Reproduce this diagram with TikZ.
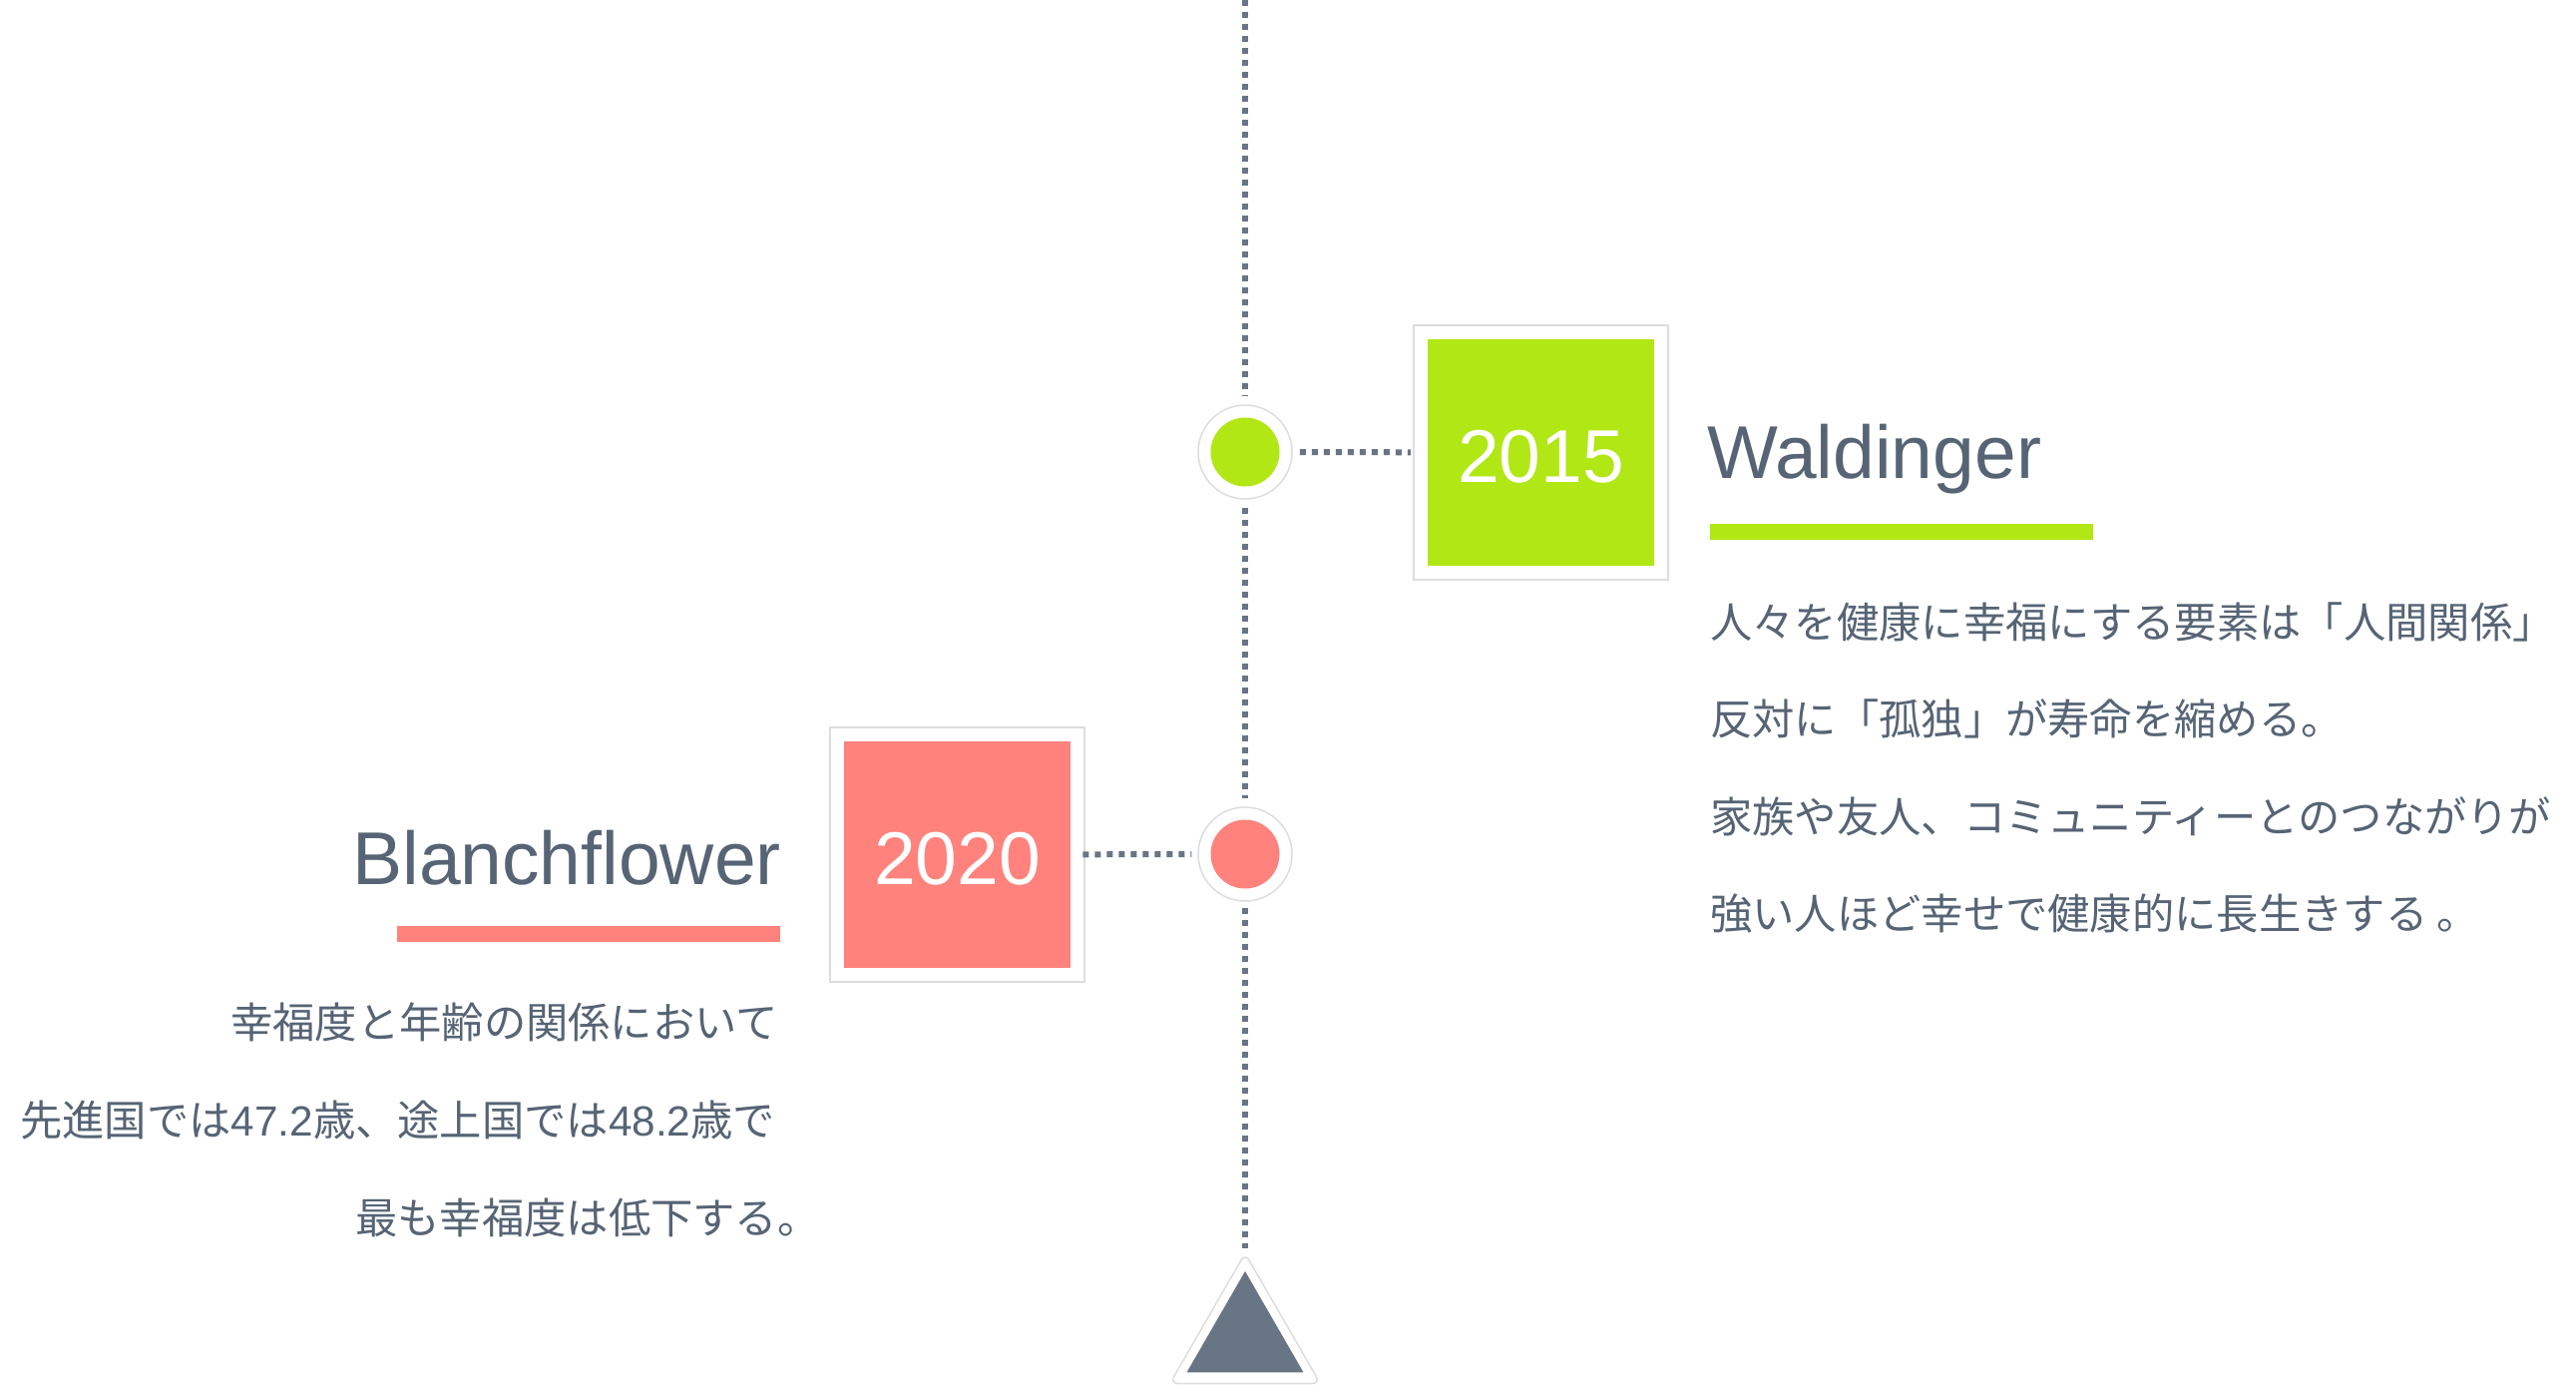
\documentclass[tikz,border=0pt]{standalone}
\usepackage{fontspec}
\setmainfont{Liberation Sans}
\newfontfamily\jpfont{Noto Sans CJK JP}
\newfontfamily\latinfont{Liberation Sans}
\usetikzlibrary{shapes.geometric}
\definecolor{tlgreen}{RGB}{177,231,20}
\definecolor{tlred}{RGB}{255,130,125}
\definecolor{tlslate}{RGB}{104,117,133}
\definecolor{tltext}{RGB}{86,100,117}
\definecolor{tlring}{RGB}{221,221,221}
\tikzset{
  dotline/.style={draw=tlslate, line width=6pt, dash pattern=on 6pt off 6pt},
  ringnode/.style={circle, minimum size=94pt, inner sep=0pt, fill=white, draw=tlring, line width=1.5pt},
  dotnode/.style={circle, minimum size=69pt, inner sep=0pt},
  framebox/.style={rectangle, minimum size=255pt, inner sep=0pt, fill=white, draw=tlring, line width=2.5pt},
  yearbox/.style={rectangle, minimum size=227pt, inner sep=0pt, text=white,
    font=\fontsize{75}{80}\selectfont, text height=60pt, text depth=0pt},
  namelabel/.style={inner sep=0pt, text=tltext, font=\fontsize{75}{80}\selectfont},
  bodytext/.style={inner sep=0pt, text=tltext, font=\jpfont\fontsize{42.3}{50}\selectfont},
  underbar/.style={rectangle, inner sep=0pt, minimum width=384pt, minimum height=16pt, anchor=north west}
}
\begin{document}
\begin{tikzpicture}[x=1pt,y=-1pt]
\useasboundingbox (0,0) rectangle (2582,1388);
\fill[white] (0,0) rectangle (2582,1388);

% timeline nodes
\coordinate (top) at (1248,0);
\node[ringnode] (c1) at (1248,453) {};
\node[dotnode, fill=tlgreen] (c1in) at (c1) {};
\node[ringnode] (c2) at (1248,856) {};
\node[dotnode, fill=tlred] (c2in) at (c2) {};

% end triangle
\node[regular polygon, regular polygon sides=3, minimum size=174pt, inner sep=0pt,
      fill=white, draw=tlring, line width=1.5pt, rounded corners=8pt] (tri) at (1248,1343) {};
\node[regular polygon, regular polygon sides=3, minimum size=135pt, inner sep=0pt,
      fill=tlslate] (triin) at (1248,1341.5) {};

% vertical dotted line
\draw[dotline, shorten >=8pt] (top) -- (c1);
\draw[dotline, shorten <=8pt, shorten >=8pt] (c1) -- (c2);
\draw[dotline, shorten <=6pt, shorten >=4pt] (c2) -- (tri.north);

% 2015 entry
\node[framebox] (sq1) at (1544.5,453.5) {};
\node[yearbox, fill=tlgreen] (y1) at (sq1) {2015};
\draw[dotline, shorten <=7pt, shorten >=2pt] (c1) -- (sq1);
\node[namelabel, anchor=base west] (n1) at (1711,479) {Waldinger};
\node[underbar, fill=tlgreen] (u1) at (1714,525) {};
\node[bodytext, anchor=base west] (t11) at (1714,639) {人々を健康に幸福にする要素は「人間関係」};
\node[bodytext, anchor=base west] (t12) at (1714,736) {反対に「孤独」が寿命を縮める。};
\node[bodytext, anchor=base west] (t13) at (1714,834) {家族や友人、コミュニティーとのつながりが};
\node[bodytext, anchor=base west] (t14) at (1714,931) {強い人ほど幸せで健康的に長生きする 。};

% 2020 entry
\node[framebox] (sq2) at (959.5,856.5) {};
\node[yearbox, fill=tlred] (y2) at (sq2) {2020};
\draw[dotline, shorten <=-3pt, shorten >=6pt] (sq2) -- (c2);
\node[namelabel, anchor=base east] (n2) at (783,886) {Blanchflower};
\node[underbar, fill=tlred] (u2) at (398,928) {};
\node[bodytext, anchor=base west] (t21) at (231,1040) {幸福度と年齢の関係において};
\node[bodytext, anchor=base west] (t22) at (20,1138) {先進国では{\latinfont 47.2}歳、途上国では{\latinfont 48.2}歳で};
\node[bodytext, anchor=base west] (t23) at (356,1236) {最も幸福度は低下する。};
\end{tikzpicture}
\end{document}
